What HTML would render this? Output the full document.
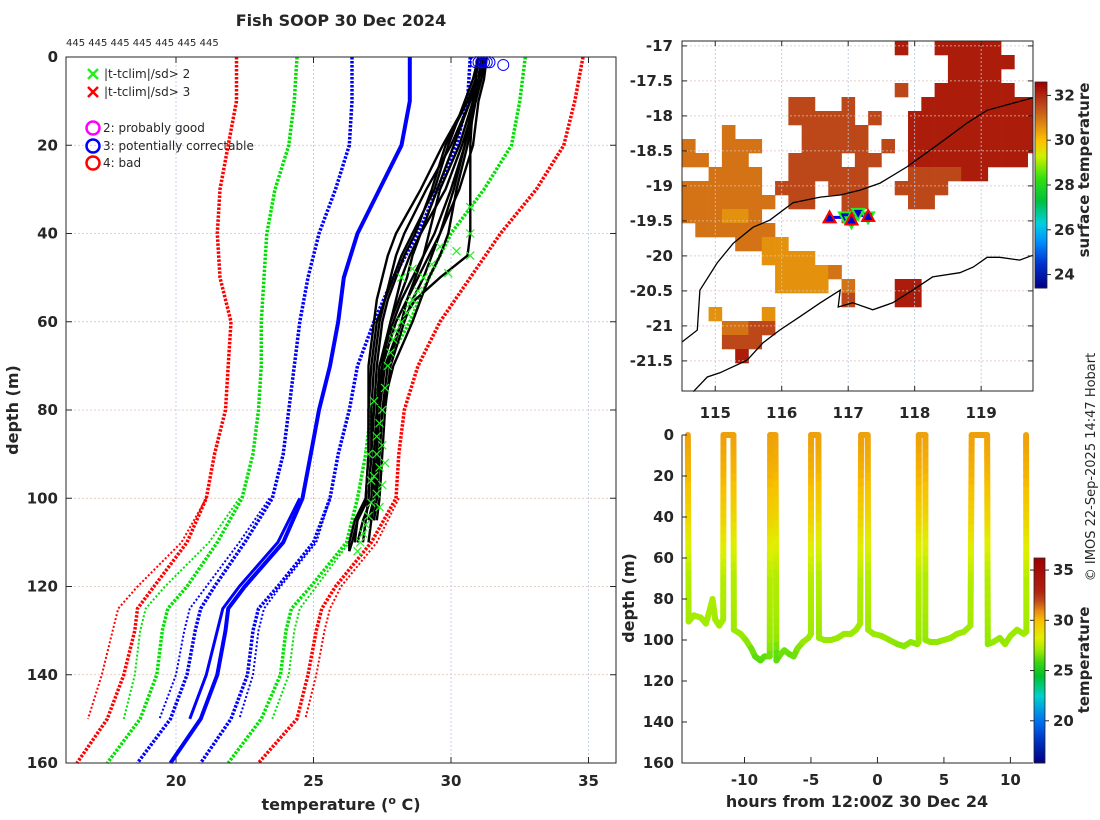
<!DOCTYPE html>
<html><head><meta charset="utf-8">
<style>
html,body{margin:0;padding:0;background:#fff;}
svg{display:block;font-family:"DejaVu Sans","Liberation Sans",sans-serif;}
.tk{font-size:15px;font-weight:bold;fill:#262626;}
.lab{font-size:16px;font-weight:bold;fill:#262626;}
.cbl{font-size:15px;font-weight:bold;fill:#262626;}
.leg{font-size:12px;fill:#262626;}
</style></head>
<body>
<svg id="fig" width="1100" height="820" viewBox="0 0 1100 820" xmlns="http://www.w3.org/2000/svg">
<rect width="1100" height="820" fill="#fff"/>
<text x="341" y="26" text-anchor="middle" class="lab">Fish SOOP 30 Dec 2024</text>
<text x="66" y="46" style="font-size:10px;fill:#262626">445 445 445 445 445 445 445</text>
<g id="left"></g>
<g id="map"></g>
<g id="tsec"></g>
<text transform="translate(18,410) rotate(-90)" text-anchor="middle" class="lab">depth (m)</text>
<text x="341" y="810" text-anchor="middle" class="lab">temperature (<tspan dy="-6" style="font-size:11px">o</tspan><tspan dy="6"> C)</tspan></text>
<text transform="translate(634,598) rotate(-90)" text-anchor="middle" class="lab">depth (m)</text>
<text x="857" y="807" text-anchor="middle" class="lab">hours from 12:00Z 30 Dec 24</text>
<text transform="translate(1089,170) rotate(-90)" text-anchor="middle" class="cbl">surface temperature</text>
<text transform="translate(1089,660) rotate(-90)" text-anchor="middle" class="cbl">temperature</text>
<text transform="translate(1095,467) rotate(-90)" text-anchor="middle" style="font-size:13px;fill:#262626">© IMOS 22-Sep-2025 14:47 Hobart</text>
</svg>
<script>
// ===== Left panel data =====
const climDepth = [0,10,20,30,40,50,60,70,80,90,100,110,120,125,130,140,150,160];
const climRedLo = [22.2,22.2,21.9,21.6,21.5,21.6,22.0,21.9,21.8,21.4,21.1,20.4,19.2,18.6,18.5,18.1,17.5,16.4];
const climGreenLo = [24.4,24.3,24.1,23.6,23.3,23.2,23.1,23.1,23.0,22.8,22.4,21.5,20.4,19.7,19.5,19.3,18.7,17.5];
const climBlueLo = [26.4,26.4,26.3,25.8,25.2,24.8,24.5,24.3,24.1,23.9,23.5,22.5,21.4,20.9,20.7,20.4,19.8,18.6];
const climMean = [28.5,28.5,28.2,27.4,26.6,26.1,25.9,25.6,25.2,24.9,24.6,23.9,22.5,21.9,21.8,21.5,20.9,19.8];
const climBlueHi = [30.7,30.6,30.2,29.5,28.8,27.9,27.2,26.6,26.3,25.9,25.6,25.0,23.7,23.0,22.8,22.6,22.0,20.9];
const climGreenHi = [32.7,32.5,32.2,31.2,30.0,29.2,28.5,27.6,27.1,26.9,26.6,26.2,24.9,24.2,24.0,23.8,23.1,21.9];
const climRedHi = [34.8,34.5,34.1,33.1,31.8,30.7,29.6,28.8,28.3,28.1,28.0,27.1,25.8,25.3,25.1,24.8,24.4,23.0];
const clim2Depth = [100,110,120,125,130,140,150];
const clim2RedLo = [21.1,20.2,18.6,17.9,17.7,17.3,16.8];
const clim2GreenLo = [22.3,21.2,19.6,18.9,18.7,18.5,18.1];
const clim2BlueLo = [23.4,22.3,21.1,20.5,20.3,20.0,19.4];
const clim2Mean = [24.5,23.7,22.3,21.7,21.5,21.1,20.5];
const clim2BlueHi = [25.6,25.1,23.8,23.2,23.0,22.8,22.3];
const clim2GreenHi = [26.6,26.3,25.1,24.5,24.3,24.1,23.5];
const clim2RedHi = [28.1,27.3,26.0,25.6,25.4,25.1,24.7];
const profDepth = [0,5,10,20,30,40,45,50,55,60,70,80,90,100,105,110,112];
const profA = [31.1,31.0,30.9,30.6,30.2,29.9,29.6,29.2,28.9,28.6,27.9,27.5,27.4,27.3,27.2,null,null];
const profB = [31.2,31.1,30.8,30.3,29.6,29.2,29.0,28.7,28.4,28.2,27.6,27.4,27.3,27.3,27.2,null,null];
const profC = [31.0,30.9,30.7,30.0,29.1,28.3,28.0,27.8,27.6,27.4,27.2,27.1,27.1,27.0,26.6,26.4,26.3];
const profD = [31.3,31.1,30.9,30.4,29.8,28.9,28.5,28.2,28.0,27.8,27.5,27.3,27.2,27.1,26.8,26.6,null];
const profE = [31.2,31.0,30.8,30.5,30.0,29.4,29.0,28.6,28.2,27.9,27.4,27.3,27.3,27.2,27.0,null,null];
const profF = [31.0,30.9,30.8,30.7,30.7,30.7,30.6,29.6,28.7,28.2,27.7,27.5,27.4,27.3,null,null,null];
const profG = [31.1,31.0,30.6,29.8,29.3,28.7,28.3,28.0,27.7,27.5,27.3,27.2,27.1,27.0,26.9,26.8,null];
const profH = [31.3,31.2,31.0,30.8,30.3,29.6,29.3,29.0,28.6,28.3,27.8,27.6,27.5,27.4,27.3,null,null];
const profI = [31.0,30.8,30.5,29.9,29.4,28.6,28.2,27.9,27.6,27.3,27.1,27.0,27.0,26.9,26.6,26.5,null];
const profJ = [31.2,31.1,30.9,30.5,30.1,29.6,29.2,28.8,28.4,28.0,27.5,27.4,27.3,27.2,27.1,null,null];
const profK = [31.1,31.0,30.7,30.1,29.5,28.9,28.6,28.4,28.1,27.8,27.4,27.3,27.2,27.2,27.1,27.0,null];
const profL = [31.0,30.9,30.6,29.7,28.9,28.0,27.7,27.5,27.3,27.2,27.0,27.0,27.0,26.9,26.5,26.3,26.3];
const flagTemp = [30.7,30.7,30.7,30.2,29.9,29.6,29.3,29.0,28.8,28.6,28.5,28.4,28.2,28.0,27.9,27.8,27.7,28.2,28.6,27.6,27.5,27.4,27.3,27.5,27.3,27.4,27.2,27.5,27.3,27.1,27.4,27.0,26.9,26.8,26.7,27.2,27.0,27.6,27.1,26.6];
const flagDepth = [34,40,45,44,49,43,47,50,53,55,56,58,60,62,64,67,70,50,48,75,80,83,86,88,90,93,95,97,99,101,102,104,106,108,110,78,90,92,96,112];
const circTemp = [30.9,31.0,31.1,31.2,31.3,31.4,31.9];
const circDepth = [1.2,1.2,1.2,1.2,1.2,1.2,1.8];
const tempTicks = [20,25,30,35];
const depthTicks = [0,20,40,60,80,100,120,140,160];

// ===== Map data =====
const mapLonTicks = [115,116,117,118,119];
const mapLatTicks = [-17,-17.5,-18,-18.5,-19,-19.5,-20,-20.5,-21,-21.5];
const sstRows = [
"................4..44444",
"....................44444",
"....................4444.",
"................3..444444",
"........33..3.....444444444",
"........33333.3..4444444444",
"...2.....33333...4444444444",
"2..222...33333.3.4444444444",
"22.22...3333.33..444444444.",
"..2222..333333...333344....",
"222222.333.333..3333.......",
"2222222.33..33...33........",
"222112......3..............",
".222222....................",
"....2211...................",
"......1111.................",
".......11112...............",
".......1111.2...44.........",
"............3...44.........",
"..1...1....................",
"...2233....................",
"...333.....................",
"....4......................"
];
const sstClassCode = ["1","2","3","4"];
const sstClassTemp = [30.6,31.0,31.6,32.2];
const isoLon = [114.5,114.73,114.77,115.03,115.27,115.57,115.82,116.17,116.58,116.88,117.18,117.48,117.88,118.38,118.79,119.09,119.78];
const isoLat = [-21.23,-21.06,-20.49,-20.10,-19.82,-19.59,-19.49,-19.24,-19.16,-19.13,-19.06,-18.96,-18.73,-18.39,-18.10,-17.92,-17.74];
const coastLon = [114.67,114.88,115.07,115.48,115.72,115.97,116.27,116.58,116.88,116.85,117.07,117.37,117.67,117.97,118.27,118.68,118.88,119.09,119.28,119.58,119.78];
const coastLat = [-21.94,-21.73,-21.67,-21.49,-21.24,-21.06,-20.87,-20.67,-20.49,-20.73,-20.67,-20.77,-20.67,-20.49,-20.30,-20.24,-20.16,-20.02,-20.02,-20.06,-19.99];
const trackLon = [116.72,116.95,117.05,117.15,117.3];
const trackLat = [-19.45,-19.45,-19.5,-19.4,-19.45];
const upTriLon = [116.72,117.05,117.3];
const upTriLat = [-19.45,-19.48,-19.43];
const downTriLon = [116.95,117.05,117.15,117.3];
const downTriLat = [-19.45,-19.52,-19.4,-19.45];
const sstCbTicks = [24,26,28,30,32];

// ===== Time-depth section data =====
const secHours = [-14.26,-14.2,-13.8,-13.3,-12.9,-12.6,-12.4,-12.2,-11.9,-11.6,-11.58,
 -10.83,-10.8,-10.3,-9.9,-9.5,-9.2,-8.8,-8.5,-8.1,-8.07,
 -7.67,-7.6,-7.3,-7.0,-6.6,-6.3,-6.0,-5.6,-5.2,-5.0,-4.99,
 -4.44,-4.4,-4.0,-3.5,-3.0,-2.5,-2.0,-1.6,-1.3,-1.23,
 -0.73,-0.7,-0.3,0.3,0.9,1.5,2.0,2.5,3.0,3.1,3.11,
 3.61,3.6,4.0,4.5,5.0,5.5,6.0,6.5,7.0,7.09,
 8.25,8.3,8.7,9.2,9.6,10.0,10.5,11.0,11.2,11.18];
const secDepth = [0,91,88,89,92,85,80,90,93,90,0,
 0,95,97,100,104,108,110,108,108,0,
 0,110,107,105,107,108,104,101,99,97,0,
 0,99,100,100,99,97,97,95,92,0,
 0,95,97,98,100,102,103,101,102,101,0,
 0,100,101,101,100,99,97,96,93,0,
 0,102,101,99,102,98,95,97,96,0];
const tzDepth = [0,20,40,50,60,70,80,100,110];
const tzTemp = [30.6,30.2,29.3,28.6,28.0,27.4,27.3,27.0,26.2];
const secHourTicks = [-10,-5,0,5,10];
const secDepthTicks = [0,20,40,60,80,100,120,140,160];
const secCbTicks = [20,25,30,35];

// ===== helpers =====
const NS="http://www.w3.org/2000/svg";
function mk(tag,attrs,parent){const e=document.createElementNS(NS,tag);for(const k in attrs)e.setAttribute(k,attrs[k]);parent.appendChild(e);return e;}
function lin(d0,d1,r0,r1){return v=>r0+(v-d0)/(d1-d0)*(r1-r0);}
function hex(c){return [parseInt(c.slice(1,3),16),parseInt(c.slice(3,5),16),parseInt(c.slice(5,7),16)];}
function cmap(stops,v){if(v<=stops[0][0])return stops[0][1];for(let i=1;i<stops.length;i++){if(v<=stops[i][0]){const f=(v-stops[i-1][0])/(stops[i][0]-stops[i-1][0]);const a=hex(stops[i-1][1]),b=hex(stops[i][1]);return 'rgb('+a.map((x,j)=>Math.round(x+(b[j]-x)*f)).join(',')+')';}}return stops[stops.length-1][1];}
function interp(xs,ys,x){if(x<=xs[0])return ys[0];for(let i=1;i<xs.length;i++){if(x<=xs[i]){return ys[i-1]+(ys[i]-ys[i-1])*(x-xs[i-1])/(xs[i]-xs[i-1]);}}return ys[ys.length-1];}
const cmStops=[[15.8,'#000080'],[18,'#0030c0'],[20,'#0070f0'],[22.5,'#00d0d0'],[24.5,'#00c030'],[26,'#40d810'],[27.2,'#a8ec00'],[28.3,'#e0f000'],[30,'#f8c000'],[31,'#e88a10'],[32,'#c04818'],[33,'#b02010'],[36.2,'#a00000']];

// ===== Left panel =====
const L=document.getElementById('left');
const xT=lin(16,36,66,616), yD=lin(0,160,57,763);
for(const t of tempTicks){const g=mk('line',{x1:xT(t),x2:xT(t),y1:57,y2:763,stroke:'#b8c4dc','stroke-width':0.8,'stroke-dasharray':'2 2'},L);}
for(const d of depthTicks){const g=mk('line',{x1:66,x2:616,y1:yD(d),y2:yD(d),stroke:'#dcc0b8','stroke-width':0.8,'stroke-dasharray':'2 2'},L);}
function pline(par,xs,ys,color,w,dash,name){const pts=[];for(let i=0;i<xs.length;i++){if(xs[i]===null)continue;pts.push(xT(xs[i]).toFixed(1)+','+yD(ys[i]).toFixed(1));}const p=mk('polyline',{points:pts.join(' '),fill:'none',stroke:color,'stroke-width':w,'stroke-linejoin':'round'},par);if(dash)p.setAttribute('stroke-dasharray',dash);return p;}
pline(L,clim2RedLo,clim2Depth,'#ff0000',2,'2 2','clim-minus3sd-alt');
pline(L,clim2GreenLo,clim2Depth,'#00e000',2,'2 2','clim-minus2sd-alt');
pline(L,clim2BlueLo,clim2Depth,'#0000ff',2,'2 2','clim-minus1sd-alt');
pline(L,clim2Mean,clim2Depth,'#0000ff',3,null,'clim-mean-alt');
pline(L,clim2BlueHi,clim2Depth,'#0000ff',2,'2 2','clim-plus1sd-alt');
pline(L,clim2GreenHi,clim2Depth,'#00e000',2,'2 2','clim-plus2sd-alt');
pline(L,clim2RedHi,clim2Depth,'#ff0000',2,'2 2','clim-plus3sd-alt');
pline(L,climRedLo,climDepth,'#ff0000',3.5,'2.5 1.5','clim-minus3sd');
pline(L,climGreenLo,climDepth,'#00e000',3.5,'2.5 1.5','clim-minus2sd');
pline(L,climBlueLo,climDepth,'#0000ff',3.5,'2.5 1.5','clim-minus1sd');
pline(L,climMean,climDepth,'#0000ff',4,null,'clim-mean');
pline(L,climBlueHi,climDepth,'#0000ff',3.5,'2.5 1.5','clim-plus1sd');
pline(L,climGreenHi,climDepth,'#00e000',3.5,'2.5 1.5','clim-plus2sd');
pline(L,climRedHi,climDepth,'#ff0000',3.5,'2.5 1.5','clim-plus3sd');
const profs=[profA,profB,profC,profD,profE,profF,profG,profH,profI,profJ,profK,profL];
profs.forEach((p,i)=>{pline(L,p,profDepth,'#000',2.4,null,'xbt-profile-'+(i+1));});
for(let i=0;i<flagTemp.length;i++){const x=xT(flagTemp[i]),y=yD(flagDepth[i]);const g=mk('path',{d:`M${x-4},${y-4}L${x+4},${y+4}M${x-4},${y+4}L${x+4},${y-4}`,stroke:'#22ee22','stroke-width':1.2},L);}
for(let i=0;i<circTemp.length;i++){const c=mk('circle',{cx:xT(circTemp[i]),cy:yD(circDepth[i]),r:5.5,fill:'none',stroke:'#0000ff','stroke-width':1},L);}
// legend
const lg=mk('g',{},L);
function xmark(x,y,c){return mk('path',{d:`M${x-5},${y-5}L${x+5},${y+5}M${x-5},${y+5}L${x+5},${y-5}`,stroke:c,'stroke-width':2.5},lg);}
let e=xmark(93,74,'#22ee22');
e=mk('text',{x:104,y:78,class:'leg'},lg);e.textContent='|t-tclim|/sd> 2';
e=xmark(93,92,'#ff0000');
e=mk('text',{x:104,y:96,class:'leg'},lg);e.textContent='|t-tclim|/sd> 3';
[['#ff00ff','2: probably good',128],['#0000ff','3: potentially correctable',146],['#ff0000','4: bad',163]].forEach((r,i)=>{
 const c=mk('circle',{cx:93,cy:r[2],r:6.5,fill:'none',stroke:r[0],'stroke-width':2.5},lg);
 const t=mk('text',{x:103,y:r[2]+4,class:'leg'},lg);t.textContent=r[1];});
// axes
e=mk('rect',{x:66,y:57,width:550,height:706,fill:'none',stroke:'#262626','stroke-width':1},L);
for(const t of tempTicks){mk('line',{x1:xT(t),x2:xT(t),y1:763,y2:757,stroke:'#262626'},L);mk('line',{x1:xT(t),x2:xT(t),y1:57,y2:63,stroke:'#262626'},L);
 const tx=mk('text',{x:xT(t),y:786,'text-anchor':'middle',class:'tk'},L);tx.textContent=t;}
for(const d of depthTicks){mk('line',{x1:66,x2:72,y1:yD(d),y2:yD(d),stroke:'#262626'},L);mk('line',{x1:610,x2:616,y1:yD(d),y2:yD(d),stroke:'#262626'},L);
 const tx=mk('text',{x:58,y:yD(d)+5,'text-anchor':'end',class:'tk'},L);tx.textContent=d;}

// ===== Map =====
const M=document.getElementById('map');
const xLon=lin(114.5,119.78,682,1033), yLat=lin(-16.93,-21.93,41,391);
const sstStops=[[23.4,'#000080'],[24.5,'#0030d0'],[25.5,'#0090ff'],[26.3,'#00d0e0'],[27.3,'#00c040'],[28.3,'#30e010'],[29.3,'#d0f000'],[30,'#ffc000'],[30.7,'#e08a10'],[31.2,'#cc6418'],[31.7,'#b84018'],[32.6,'#a00000']];
sstRows.forEach((row,r)=>{for(let c=0;c<row.length;c++){const k=sstClassCode.indexOf(row[c]);if(k<0)continue;const lon0=114.5+0.2*c,lat0=-16.93-0.2*r;
 const x0=xLon(lon0),x1=Math.min(xLon(lon0+0.2),1033),y0=yLat(lat0),y1=yLat(lat0-0.2);
 const cell=mk('rect',{x:x0,y:y0,width:x1-x0+0.3,height:y1-y0+0.3,fill:cmap(sstStops,sstClassTemp[k])},M);}});
for(const t of mapLonTicks){const g=mk('line',{x1:xLon(t),x2:xLon(t),y1:41,y2:391,stroke:'#b8c4dc','stroke-width':0.8,'stroke-dasharray':'2 2'},M);}
for(const t of mapLatTicks){const g=mk('line',{x1:682,x2:1033,y1:yLat(t),y2:yLat(t),stroke:'#dcc0b8','stroke-width':0.8,'stroke-dasharray':'2 2'},M);}
function mline(lons,lats,name){const p=mk('polyline',{points:lons.map((l,i)=>xLon(l).toFixed(1)+','+yLat(lats[i]).toFixed(1)).join(' '),fill:'none',stroke:'#000','stroke-width':1.3},M);}
mline(isoLon,isoLat,'isobath-line');mline(coastLon,coastLat,'coastline');
e=mk('polyline',{points:trackLon.map((l,i)=>xLon(l)+','+yLat(trackLat[i])).join(' '),fill:'none',stroke:'#0000ff','stroke-width':3},M);
for(let i=0;i<downTriLon.length;i++){const x=xLon(downTriLon[i]),y=yLat(downTriLat[i]);const t=mk('path',{d:`M${x-6},${y-5}L${x+6},${y-5}L${x},${y+6}Z`,fill:'#0000cc',stroke:'#22ee22','stroke-width':2},M);}
for(let i=0;i<upTriLon.length;i++){const x=xLon(upTriLon[i]),y=yLat(upTriLat[i]);const t=mk('path',{d:`M${x-6},${y+5}L${x+6},${y+5}L${x},${y-6}Z`,fill:'#0000cc',stroke:'#ff0000','stroke-width':2},M);}
e=mk('rect',{x:682,y:41,width:351,height:350,fill:'none',stroke:'#262626'},M);
for(const t of mapLonTicks){mk('line',{x1:xLon(t),x2:xLon(t),y1:391,y2:386,stroke:'#262626'},M);mk('line',{x1:xLon(t),x2:xLon(t),y1:41,y2:46,stroke:'#262626'},M);
 const tx=mk('text',{x:xLon(t),y:418,'text-anchor':'middle',class:'tk'},M);tx.textContent=t;}
for(const t of mapLatTicks){mk('line',{x1:682,x2:687,y1:yLat(t),y2:yLat(t),stroke:'#262626'},M);mk('line',{x1:1028,x2:1033,y1:yLat(t),y2:yLat(t),stroke:'#262626'},M);
 const tx=mk('text',{x:673,y:yLat(t)+5,'text-anchor':'end',class:'tk'},M);tx.textContent=t;}
// map colorbar
const yCb1=lin(23.4,32.6,288,82);
for(let v=23.4;v<32.6;v+=0.1){const r=mk('rect',{x:1035,y:yCb1(v+0.1),width:12,height:yCb1(v)-yCb1(v+0.1)+0.5,fill:cmap(sstStops,v+0.05)},M);}
e=mk('rect',{x:1035,y:82,width:12,height:206,fill:'none',stroke:'#262626','stroke-width':0.8},M);
for(const t of sstCbTicks){mk('line',{x1:1047,x2:1051,y1:yCb1(t),y2:yCb1(t),stroke:'#262626'},M);const tx=mk('text',{x:1054,y:yCb1(t)+5,class:'tk'},M);tx.textContent=t;}

// ===== Time-depth section =====
const S=document.getElementById('tsec');
const xH=lin(-14.7,11.7,682,1033), ySd=lin(0,160,435,763);
for(let i=1;i<secHours.length;i++){
 const h0=secHours[i-1],h1=secHours[i],d0=secDepth[i-1],d1=secDepth[i];
 const n=Math.max(1,Math.ceil(Math.abs(d1-d0)/4));
 for(let k=0;k<n;k++){const a=k/n,b=(k+1)/n;const dm=d0+(d1-d0)*(a+b)/2;
  const s=mk('line',{x1:xH(h0+(h1-h0)*a),y1:ySd(d0+(d1-d0)*a),x2:xH(h0+(h1-h0)*b),y2:ySd(d0+(d1-d0)*b),stroke:cmap(cmStops,interp(tzDepth,tzTemp,dm)),'stroke-width':6,'stroke-linecap':'round'},S);
  
  }}
e=mk('path',{d:'M682,435L682,763L1033,763',fill:'none',stroke:'#262626'},S);
for(const t of secHourTicks){mk('line',{x1:xH(t),x2:xH(t),y1:763,y2:757,stroke:'#262626'},S);const tx=mk('text',{x:xH(t),y:785,'text-anchor':'middle',class:'tk'},S);tx.textContent=t;}
for(const d of secDepthTicks){mk('line',{x1:682,x2:687,y1:ySd(d),y2:ySd(d),stroke:'#262626'},S);const tx=mk('text',{x:674,y:ySd(d)+5,'text-anchor':'end',class:'tk'},S);tx.textContent=d;}
const yCb2=lin(15.8,36.2,763,558);
for(let v=15.8;v<36.2;v+=0.2){const r=mk('rect',{x:1034,y:yCb2(v+0.2),width:11,height:yCb2(v)-yCb2(v+0.2)+0.5,fill:cmap(cmStops,v+0.1)},S);}
e=mk('rect',{x:1034,y:558,width:11,height:205,fill:'none',stroke:'#262626','stroke-width':0.8},S);
for(const t of secCbTicks){mk('line',{x1:1045,x2:1049,y1:yCb2(t),y2:yCb2(t),stroke:'#262626'},S);mk('line',{x1:1034,x2:1030,y1:yCb2(t),y2:yCb2(t),stroke:'#262626'},S);const tx=mk('text',{x:1053,y:yCb2(t)+5,class:'tk'},S);tx.textContent=t;}
</script>
</body></html>
